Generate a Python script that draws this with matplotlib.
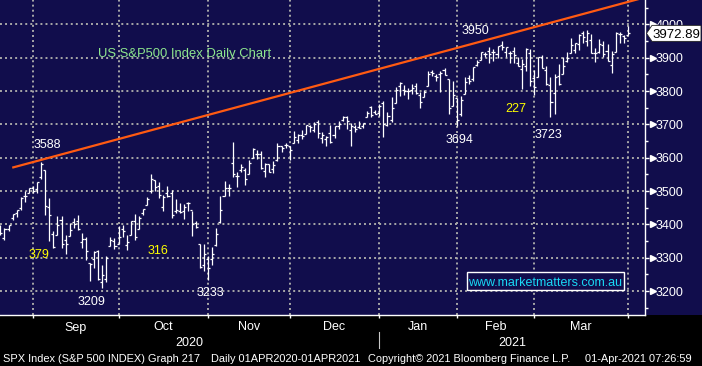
import matplotlib
matplotlib.use("Agg")
import matplotlib.pyplot as plt
from matplotlib.collections import LineCollection
from matplotlib.transforms import IdentityTransform
from matplotlib.patches import Polygon, Rectangle
from matplotlib import font_manager
import numpy as np
import pandas as pd

# ---------------- data (S&P 500 daily OHLC) ----------------
dates = [
    "2020-08-19", "2020-08-20", "2020-08-21", "2020-08-24", "2020-08-25", "2020-08-26", "2020-08-27", "2020-08-28", "2020-08-31",
    "2020-09-01", "2020-09-02", "2020-09-03", "2020-09-04", "2020-09-08", "2020-09-09", "2020-09-10", "2020-09-11",
    "2020-09-14", "2020-09-15", "2020-09-16", "2020-09-17", "2020-09-18", "2020-09-21", "2020-09-22", "2020-09-23",
    "2020-09-24", "2020-09-25", "2020-09-28", "2020-09-29", "2020-09-30",
    "2020-10-01", "2020-10-02", "2020-10-05", "2020-10-06", "2020-10-07", "2020-10-08", "2020-10-09", "2020-10-12",
    "2020-10-13", "2020-10-14", "2020-10-15", "2020-10-16", "2020-10-19", "2020-10-20", "2020-10-21", "2020-10-22",
    "2020-10-23", "2020-10-26", "2020-10-27", "2020-10-28", "2020-10-29", "2020-10-30",
    "2020-11-02", "2020-11-03", "2020-11-04", "2020-11-05", "2020-11-06", "2020-11-09", "2020-11-10", "2020-11-11",
    "2020-11-12", "2020-11-13", "2020-11-16", "2020-11-17", "2020-11-18", "2020-11-19", "2020-11-20", "2020-11-23",
    "2020-11-24", "2020-11-25", "2020-11-27", "2020-11-30",
    "2020-12-01", "2020-12-02", "2020-12-03", "2020-12-04", "2020-12-07", "2020-12-08", "2020-12-09", "2020-12-10",
    "2020-12-11", "2020-12-14", "2020-12-15", "2020-12-16", "2020-12-17", "2020-12-18", "2020-12-21", "2020-12-22",
    "2020-12-23", "2020-12-24", "2020-12-28", "2020-12-29", "2020-12-30", "2020-12-31",
    "2021-01-04", "2021-01-05", "2021-01-06", "2021-01-07", "2021-01-08", "2021-01-11", "2021-01-12", "2021-01-13",
    "2021-01-14", "2021-01-15", "2021-01-19", "2021-01-20", "2021-01-21", "2021-01-22", "2021-01-25", "2021-01-26",
    "2021-01-27", "2021-01-28", "2021-01-29",
    "2021-02-01", "2021-02-02", "2021-02-03", "2021-02-04", "2021-02-05", "2021-02-08", "2021-02-09", "2021-02-10",
    "2021-02-11", "2021-02-12", "2021-02-16", "2021-02-17", "2021-02-18", "2021-02-19", "2021-02-22", "2021-02-23",
    "2021-02-24", "2021-02-25", "2021-02-26",
    "2021-03-01", "2021-03-02", "2021-03-03", "2021-03-04", "2021-03-05", "2021-03-08", "2021-03-09", "2021-03-10",
    "2021-03-11", "2021-03-12", "2021-03-15", "2021-03-16", "2021-03-17", "2021-03-18", "2021-03-19", "2021-03-22",
    "2021-03-23", "2021-03-24", "2021-03-25", "2021-03-26", "2021-03-29", "2021-03-30", "2021-03-31",
]
opens = [
    3392, 3360, 3386, 3418, 3435, 3449, 3486, 3494, 3509,
    3507, 3543, 3564, 3453, 3371, 3369, 3412, 3353,
    3364, 3407, 3411, 3347, 3357, 3285, 3296, 3320,
    3226, 3236, 3334, 3350, 3341,
    3385, 3339, 3367, 3409, 3385, 3434, 3459, 3500,
    3534, 3515, 3453, 3493, 3493, 3439, 3439, 3439,
    3464, 3442, 3403, 3342, 3278, 3297,
    3297, 3337, 3406, 3485, 3508, 3583, 3544, 3563,
    3562, 3552, 3600, 3610, 3612, 3559, 3580, 3567,
    3594, 3635, 3638, 3634,
    3645, 3654, 3669, 3671, 3695, 3683, 3706, 3660,
    3656, 3675, 3667, 3696, 3714, 3722, 3684, 3693,
    3693, 3694, 3723, 3751, 3736, 3733,
    3764, 3698, 3713, 3764, 3815, 3803, 3801, 3802,
    3815, 3789, 3781, 3816, 3857, 3844, 3851, 3862,
    3836, 3755, 3778,
    3731, 3791, 3840, 3837, 3878, 3892, 3910, 3920,
    3917, 3911, 3939, 3918, 3915, 3921, 3885, 3865,
    3874, 3915, 3839,
    3842, 3903, 3864, 3818, 3793, 3844, 3851, 3891,
    3915, 3924, 3942, 3974, 3949, 3953, 3913, 3916,
    3937, 3919, 3879, 3917, 3970, 3964, 3968,
]
highs = [
    3399, 3390, 3399, 3432, 3444, 3481, 3501, 3510, 3514,
    3528, 3588, 3564, 3479, 3379, 3424, 3425, 3368,
    3403, 3419, 3428, 3375, 3362, 3285, 3320, 3323,
    3278, 3306, 3361, 3358, 3394,
    3397, 3369, 3409, 3432, 3426, 3447, 3482, 3550,
    3534, 3528, 3489, 3515, 3502, 3476, 3465, 3460,
    3466, 3441, 3409, 3342, 3342, 3305,
    3331, 3389, 3486, 3529, 3521, 3646, 3557, 3581,
    3569, 3593, 3628, 3624, 3619, 3585, 3581, 3589,
    3643, 3635, 3644, 3634,
    3679, 3670, 3682, 3699, 3697, 3708, 3712, 3678,
    3665, 3698, 3695, 3711, 3725, 3726, 3703, 3698,
    3711, 3703, 3740, 3756, 3744, 3760,
    3770, 3738, 3783, 3811, 3826, 3817, 3810, 3820,
    3823, 3796, 3804, 3860, 3862, 3852, 3859, 3870,
    3837, 3830, 3778,
    3784, 3843, 3848, 3872, 3894, 3916, 3918, 3931,
    3926, 3935, 3950, 3933, 3921, 3931, 3902, 3895,
    3928, 3925, 3862,
    3902, 3907, 3874, 3843, 3851, 3881, 3903, 3918,
    3960, 3944, 3970, 3981, 3983, 3970, 3930, 3955,
    3949, 3942, 3919, 3978, 3976, 3968, 3994,
]
lows = [
    3369, 3354, 3379, 3413, 3421, 3444, 3468, 3495, 3493,
    3494, 3535, 3427, 3349, 3329, 3367, 3329, 3311,
    3364, 3389, 3384, 3328, 3293, 3229, 3270, 3232,
    3209, 3228, 3334, 3327, 3340,
    3362, 3323, 3367, 3354, 3385, 3429, 3458, 3495,
    3500, 3480, 3441, 3483, 3420, 3435, 3433, 3415,
    3441, 3364, 3388, 3268, 3260, 3234,
    3279, 3336, 3405, 3485, 3484, 3543, 3511, 3557,
    3519, 3552, 3600, 3595, 3567, 3543, 3556, 3553,
    3591, 3617, 3629, 3594,
    3645, 3645, 3657, 3671, 3678, 3678, 3660, 3645,
    3634, 3645, 3660, 3685, 3710, 3685, 3636, 3676,
    3690, 3690, 3723, 3723, 3731, 3726,
    3663, 3695, 3706, 3764, 3784, 3789, 3777, 3792,
    3792, 3750, 3781, 3816, 3845, 3831, 3797, 3847,
    3732, 3755, 3694,
    3725, 3791, 3822, 3830, 3874, 3892, 3903, 3885,
    3890, 3900, 3923, 3901, 3885, 3884, 3874, 3805,
    3859, 3815, 3789,
    3842, 3868, 3818, 3723, 3730, 3819, 3851, 3886,
    3915, 3915, 3923, 3943, 3935, 3914, 3887, 3915,
    3902, 3889, 3853, 3917, 3943, 3944, 3967,
]
closes = [
    3375, 3385, 3397, 3431, 3443, 3479, 3485, 3508, 3500,
    3527, 3581, 3455, 3427, 3332, 3399, 3340, 3341,
    3383, 3401, 3385, 3357, 3320, 3281, 3316, 3237,
    3247, 3298, 3352, 3335, 3363,
    3381, 3348, 3409, 3361, 3419, 3446, 3477, 3535,
    3512, 3489, 3483, 3484, 3427, 3443, 3436, 3453,
    3465, 3401, 3391, 3271, 3310, 3270,
    3310, 3370, 3443, 3510, 3509, 3550, 3545, 3572,
    3537, 3585, 3627, 3610, 3568, 3582, 3558, 3577,
    3635, 3630, 3638, 3622,
    3662, 3669, 3666, 3699, 3692, 3702, 3673, 3668,
    3663, 3647, 3695, 3702, 3722, 3709, 3695, 3687,
    3690, 3703, 3735, 3727, 3732, 3756,
    3701, 3726, 3748, 3804, 3825, 3799, 3801, 3810,
    3795, 3768, 3798, 3852, 3853, 3841, 3855, 3849,
    3750, 3787, 3714,
    3774, 3826, 3830, 3872, 3887, 3916, 3911, 3910,
    3916, 3934, 3933, 3932, 3914, 3907, 3876, 3881,
    3925, 3829, 3811,
    3901, 3870, 3820, 3768, 3842, 3821, 3875, 3898,
    3939, 3943, 3969, 3962, 3974, 3915, 3913, 3940,
    3911, 3889, 3910, 3975, 3971, 3959, 3973,
]

price_ticks = [3200, 3300, 3400, 3500, 3600, 3700, 3800, 3900, 4000]
month_labels = ["Sep", "Oct", "Nov", "Dec", "Jan", "Feb", "Mar"]
year_labels = ["2020", "2021"]
last_price = 3972.89

# resistance trend line (bar index, price)
trend_idx = [2.9, 158.2]
trend_val = [3570, 4081]

# annotations: (text, colour, x px, y px centre)
annotations = [
    ("3588", "white", 47, 143),
    ("379", "#ffff00", 39, 253),
    ("3209", "white", 92, 300),
    ("316", "#ffff00", 158, 249),
    ("3233", "white", 210, 291),
    ("3950", "white", 475, 29),
    ("3694", "white", 459, 138),
    ("227", "#ffff00", 516, 107),
    ("3723", "white", 548, 133),
]

# ---------------- figure ----------------
W, H = 702, 366
NAVY = "#110d4c"
GRID = "#a8a8a8"
plt.rcParams["font.family"] = ["Liberation Sans", "DejaVu Sans"]

# narrow face for the Bloomberg footer if available
try:
    font_manager.findfont(font_manager.FontProperties(family="Liberation Sans Narrow"),
                          fallback_to_default=False)
    FOOT_FAM, FOOT_SIZE = ["Liberation Sans Narrow"], 9.6
except Exception:
    FOOT_FAM, FOOT_SIZE = ["Liberation Sans"], 7.9

fig = plt.figure(figsize=(W / 100, H / 100), dpi=100, facecolor="black")
PLOT_R, PLOT_B = 645, 315
# navy strip behind price axis (drawn below the axes)
fig.patches.append(Rectangle((PLOT_R / W, (H - PLOT_B) / H), (W - PLOT_R) / W, PLOT_B / H,
                             transform=fig.transFigure, facecolor=NAVY, edgecolor="none", zorder=-5))
ax = fig.add_axes([0, (H - PLOT_B) / H, PLOT_R / W, PLOT_B / H])
ax.set_facecolor(NAVY)

n = len(dates)
x = np.arange(n)
o = np.array(opens, float); h = np.array(highs, float)
l = np.array(lows, float); c = np.array(closes, float)

ax.set_xlim(-0.1, 158.2)
ax.set_ylim(3128, 4073)

# month boundaries: last trading day of each month
dt = pd.to_datetime(pd.Series(dates))
mon = dt.dt.month.values
month_end = [i for i in range(n - 1) if mon[i] != mon[i + 1]] + [n - 1]

# dotted grid
for v in price_ticks:
    ax.axhline(v, color=GRID, lw=1.4, linestyle=(0, (1, 1.6)), zorder=1)
for v in month_end:
    ax.axvline(v, color=GRID, lw=1.4, linestyle=(0, (1, 1.6)), zorder=1)

tick = 0.5
segs = []
for i in range(n):
    segs.append([(x[i], l[i]), (x[i], h[i])])
    segs.append([(x[i] - tick, o[i]), (x[i], o[i])])
    segs.append([(x[i], c[i]), (x[i] + tick, c[i])])
ax.add_collection(LineCollection(segs, colors="white", linewidths=0.9, zorder=3,
                                 capstyle="butt"))

ax.plot(trend_idx, trend_val, color="#ff5a12", lw=1.6, zorder=4, solid_capstyle="butt")

ax.set_xticks(month_end)
ax.set_xticklabels([])
ax.set_yticks(price_ticks)
ax.yaxis.tick_right()
ax.set_yticks(np.arange(3150, 4100, 100), minor=True)
ax.tick_params(axis="y", which="major", length=2.9, width=1, color="white",
               labelcolor="white", labelsize=9, pad=4.6)
ax.tick_params(axis="y", which="minor", length=2.2, width=1, color="white")
ax.tick_params(axis="x", which="major", length=2.2, width=1, color="white", direction="out")
for s in ["top", "left"]:
    ax.spines[s].set_visible(False)
for s in ["bottom", "right"]:
    ax.spines[s].set_color("white")
    ax.spines[s].set_linewidth(1.0)

# arrow-head markers on price ticks
ax.plot(np.full(len(price_ticks), 1 + 7.5 / PLOT_R), price_ticks, ls="none", marker=">",
        ms=4.6, color="white", mec="white", transform=ax.get_yaxis_transform(), clip_on=False, zorder=5)

I = IdentityTransform()
def txt(xp, yp, s, **kw):
    fig.text(xp, H - yp, s, transform=I, **kw)

# month / year labels
mids = [(month_end[k] + month_end[k + 1]) / 2 for k in range(len(month_labels))]
for lab, m in zip(month_labels, mids):
    xp = ax.transData.transform((m, 0))[0]
    txt(xp, 330.5, lab, color="white", fontsize=9, ha="center", va="baseline")
year_split = month_end[4]
yr_mid = [(-0.1 + year_split) / 2, (year_split + 158.2) / 2]
for lab, m in zip(year_labels, yr_mid):
    xp = ax.transData.transform((m, 0))[0]
    txt(xp, 346.5, lab, color="white", fontsize=9, ha="center", va="baseline")
xs = ax.transData.transform((year_split, 0))[0]
fig.add_artist(plt.Line2D([xs, xs], [H - 332, H - 348], transform=I, color="#c8c8c8", lw=0.8))

# footer
foot = [(3, "SPX Index (S&P 500 INDEX) Graph 217"), (211, "Daily 01APR2020-01APR2021"),
        (368, "Copyright\u00a9 2021 Bloomberg Finance L.P."), (585, "01-Apr-2021 07:26:59")]
for xp, s in foot:
    txt(xp, 362.5, s, color="white", fontsize=FOOT_SIZE, family=FOOT_FAM, ha="left", va="baseline")

# title
txt(98, 56.5, "US S&P500 Index Daily Chart", color="#8de68d", fontsize=9.4, ha="left", va="baseline")

# level annotations
for s, col, xp, yp in annotations:
    txt(xp, yp + 4.6, s, color=col, fontsize=9, ha="center", va="baseline")

# website box
fig.patches.append(Rectangle((467, H - 290), 157, 18, transform=I, facecolor=NAVY,
                             edgecolor="white", lw=1.0, zorder=5))
txt(545.5, 286, "www.marketmatters.com.au", color="#19d9f5", fontsize=9, ha="center", va="baseline", zorder=6)

# last price tag
yp = H - ax.transData.transform((0, last_price))[1]
tag = Polygon([(646.5, H - yp), (652, H - (yp - 8)), (701, H - (yp - 8)), (701, H - (yp + 8)), (652, H - (yp + 8))],
              closed=True, transform=I, facecolor="white", edgecolor="#222222", lw=0.6, zorder=6)
fig.patches.append(tag)
txt(676, yp + 4.8, f"{last_price:.2f}", color="black", fontsize=9.5, ha="center", va="baseline", zorder=7)

fig.savefig("out.png", dpi=100, facecolor="black")
